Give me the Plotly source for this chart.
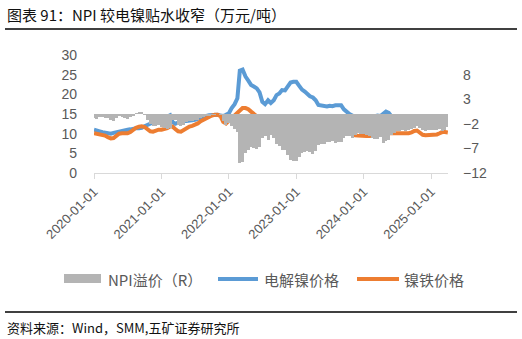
import plotly.graph_objects as go

# semimonthly dates 2020-01-01 .. 2025-04-01
dates = []
for yr in range(2020, 2026):
    for m in range(1, 13):
        if yr == 2025 and m > 3:
            break
        dates.append(f"{yr}-{m:02d}-01")
        dates.append(f"{yr}-{m:02d}-16")
dates.append("2025-04-01")

nickel = [
    # 2020
    11.0, 10.9, 10.6, 10.4, 10.3, 10.0, 10.0, 10.2, 10.4, 10.5, 10.6, 10.8,
    11.0, 11.1, 11.3, 11.4, 11.4, 11.5, 11.9, 12.2, 12.6, 13.0, 13.2, 13.3,
    # 2021
    13.6, 14.0, 14.4, 14.7, 13.0, 12.5, 12.8, 13.0, 13.3, 13.2, 13.2, 13.4,
    13.5, 13.8, 14.0, 14.2, 14.5, 14.7, 14.8, 14.9, 14.8, 14.6, 14.5, 14.8,
    # 2022
    15.2, 16.5, 17.5, 19.0, 26.0, 26.3, 24.5, 23.5, 22.4, 22.0, 21.5, 20.5,
    18.1, 17.5, 18.5, 17.8, 18.5, 19.8, 20.2, 21.1, 21.0, 22.0, 23.0, 23.2,
    # 2023
    23.2, 22.2, 21.2, 20.7, 20.0, 19.5, 19.2, 18.5, 17.3, 17.2, 17.0, 16.9,
    17.1, 17.0, 17.2, 17.3, 17.2, 16.2, 15.5, 15.0, 14.6, 13.8, 13.4, 13.5,
    # 2024
    13.5, 13.7, 13.8, 14.3, 14.5, 14.6, 14.5, 15.0, 15.6, 15.3, 14.3, 13.8,
    13.6, 13.5, 13.4, 13.5, 13.3, 13.4, 13.6, 13.3, 13.0, 13.0, 13.0, 12.9,
    # 2025
    12.9, 13.0, 13.0, 13.1, 13.8, 13.6, 13.0,
]

npi = [
    # 2020
    10.1, 10.0, 9.9, 9.8, 9.5, 9.1, 8.8, 8.9, 9.6, 10.0, 10.1, 10.1,
    10.1, 10.4, 11.0, 11.5, 11.8, 11.9, 11.7, 11.0, 10.6, 10.5, 10.8, 11.0,
    # 2021
    11.0, 11.1, 11.4, 11.8, 11.8, 11.2, 10.6, 10.5, 11.0, 11.5, 11.8, 12.0,
    12.2, 12.6, 13.2, 13.6, 14.0, 14.4, 14.6, 14.8, 14.8, 14.5, 13.0, 12.6,
    # 2022
    13.3, 14.0, 14.5, 15.4, 16.0, 16.5, 16.5, 16.2, 15.6, 15.0, 14.3, 13.8,
    13.3, 13.0, 13.3, 13.5, 13.6, 13.6, 13.6, 13.7, 13.6, 13.6, 13.7, 13.6,
    # 2023
    13.6, 13.5, 13.3, 13.0, 12.4, 11.7, 11.0, 10.9, 10.9, 11.0, 10.9, 11.2,
    11.5, 11.5, 11.4, 11.6, 11.5, 11.3, 11.0, 10.5, 9.8, 9.6, 9.5, 9.4,
    # 2024
    9.4, 9.4, 9.4, 9.4, 9.5, 9.6, 9.9, 10.1, 10.1, 10.1, 10.1, 10.0,
    10.1, 10.1, 10.1, 10.1, 10.1, 10.3, 10.7, 10.8, 10.2, 9.7, 9.6, 9.6,
    # 2025
    9.6, 9.7, 9.8, 10.1, 10.4, 10.4, 10.3,
]

npi_premium = [
    # 2020
    -0.9, -1.0, -0.7, -0.6, -0.8, -0.9, -1.3, -1.4, -0.8, -0.5, -0.6, -0.8,
    -1.0, -0.7, -0.3, 0.2, 0.4, 0.3, -0.2, -1.2, -2.0, -2.5, -2.4, -2.3,
    # 2021
    -2.6, -2.9, -3.0, -2.9, -1.2, -1.3, -2.2, -2.5, -2.3, -1.7, -1.4, -1.4,
    -1.3, -1.2, -0.8, -0.6, -0.5, -0.3, -0.2, -0.1, 0.0, -0.1, -1.5, -2.2,
    # 2022
    -1.9, -2.5, -3.0, -3.6, -10.0, -9.8, -8.0, -7.3, -6.8, -7.0, -7.2, -6.7,
    -4.8, -4.5, -5.2, -4.3, -4.9, -6.2, -6.6, -7.4, -7.4, -8.4, -9.3, -9.6,
    # 2023
    -9.6, -8.7, -7.9, -7.7, -7.6, -7.8, -8.2, -7.6, -6.4, -6.2, -6.1, -5.7,
    -5.6, -5.5, -5.8, -5.7, -5.7, -4.9, -4.5, -4.5, -4.8, -4.2, -3.9, -4.1,
    # 2024
    -4.1, -4.3, -4.4, -4.9, -5.0, -5.0, -4.6, -5.9, -5.5, -5.2, -4.2, -3.8,
    -3.5, -3.4, -3.3, -3.4, -3.2, -3.1, -2.9, -2.5, -2.8, -3.3, -3.4, -3.3,
    # 2025
    -3.3, -3.3, -3.2, -3.0, -3.4, -3.2, -2.7,
]

year_ticks = ["2020-01-01", "2021-01-01", "2022-01-01", "2023-01-01", "2024-01-01", "2025-01-01"]
left_ticks = [0, 5, 10, 15, 20, 25, 30]
right_ticks = [-12, -7, -2, 3, 8]

title_text = "图表 91：NPI 较电镍贴水收窄（万元/吨）"
source_text = "资料来源：Wind，SMM,五矿证券研究所"
legend_names = ["NPI溢价（R）", "电解镍价格", "镍铁价格"]

GRAY = "#B4B4B4"
BLUE = "#5B9BD5"
ORANGE = "#ED7D31"
CJK = "Noto Sans CJK SC"
NUM = "Liberation Sans"
DAY_MS = 86400000

fig = go.Figure()
fig.add_trace(go.Bar(x=dates, y=npi_premium, yaxis="y2", width=16 * DAY_MS,
                     marker=dict(color=GRAY, line=dict(width=0)),
                     name=legend_names[0], showlegend=False))
fig.add_trace(go.Scatter(x=dates, y=nickel, mode="lines", line=dict(color=BLUE, width=4),
                         name=legend_names[1], showlegend=False))
fig.add_trace(go.Scatter(x=dates, y=npi, mode="lines", line=dict(color=ORANGE, width=4),
                         name=legend_names[2], showlegend=False))

W, H = 522, 339
L, R, T, B = 94, 448, 55, 173
pw, ph = R - L, B - T


def px(x):
    return (x - L) / pw


def py(y):
    return (B - y) / ph


fig.update_layout(
    width=W, height=H,
    margin=dict(l=L, r=W - R, t=T, b=H - B),
    paper_bgcolor="white", plot_bgcolor="white",
    bargap=0,
    xaxis=dict(type="date", range=["2020-01-01", "2025-04-02"],
               tickvals=year_ticks, ticktext=year_ticks, tickangle=-45,
               ticks="outside", ticklen=5, tickcolor="#D9D9D9",
               showline=True, linecolor="#D9D9D9", linewidth=1,
               showgrid=False, zeroline=False,
               tickfont=dict(family=NUM, size=13, color="#595959")),
    yaxis=dict(range=[0, 30], tickvals=left_ticks, showgrid=False, zeroline=False,
               showline=False, ticks="", ticklabelstandoff=16,
               tickfont=dict(family=NUM, size=14, color="#595959")),
    yaxis2=dict(range=[-12, 12], tickvals=right_ticks, overlaying="y", side="right",
                showgrid=False, zeroline=False, showline=False, ticks="",
                ticklabelstandoff=14,
                tickfont=dict(family=NUM, size=14, color="#595959")),
    showlegend=False,
)

shapes = [
    dict(type="line", xref="paper", yref="paper", x0=px(5), x1=px(517), y0=py(29), y1=py(29),
         line=dict(color="#000000", width=1.5)),
    dict(type="line", xref="paper", yref="paper", x0=px(5), x1=px(517), y0=py(312), y1=py(312),
         line=dict(color="#000000", width=1.5)),
    # legend symbols
    dict(type="rect", xref="paper", yref="paper", x0=px(64), x1=px(101), y0=py(283), y1=py(274),
         fillcolor=GRAY, line=dict(width=0)),
    dict(type="line", xref="paper", yref="paper", x0=px(218), x1=px(258), y0=py(279), y1=py(279),
         line=dict(color=BLUE, width=4)),
    dict(type="line", xref="paper", yref="paper", x0=px(357), x1=px(399), y0=py(279), y1=py(279),
         line=dict(color=ORANGE, width=4)),
]
fig.update_layout(shapes=shapes)

annotations = [
    dict(text=title_text, xref="paper", yref="paper", x=px(5), y=py(14), xanchor="left", yanchor="middle",
         showarrow=False, font=dict(family=CJK, size=15, color="#111111")),
    dict(text=source_text, xref="paper", yref="paper", x=px(5), y=py(327), xanchor="left", yanchor="middle",
         showarrow=False, font=dict(family=CJK, size=13, color="#111111")),
    dict(text=legend_names[0], xref="paper", yref="paper", x=px(106), y=py(279), xanchor="left", yanchor="middle",
         showarrow=False, font=dict(family=CJK, size=15, color="#595959")),
    dict(text=legend_names[1], xref="paper", yref="paper", x=px(262), y=py(279), xanchor="left", yanchor="middle",
         showarrow=False, font=dict(family=CJK, size=15, color="#595959")),
    dict(text=legend_names[2], xref="paper", yref="paper", x=px(402), y=py(279), xanchor="left", yanchor="middle",
         showarrow=False, font=dict(family=CJK, size=15, color="#595959")),
]
fig.update_layout(annotations=annotations)

fig.write_html("out.html")
